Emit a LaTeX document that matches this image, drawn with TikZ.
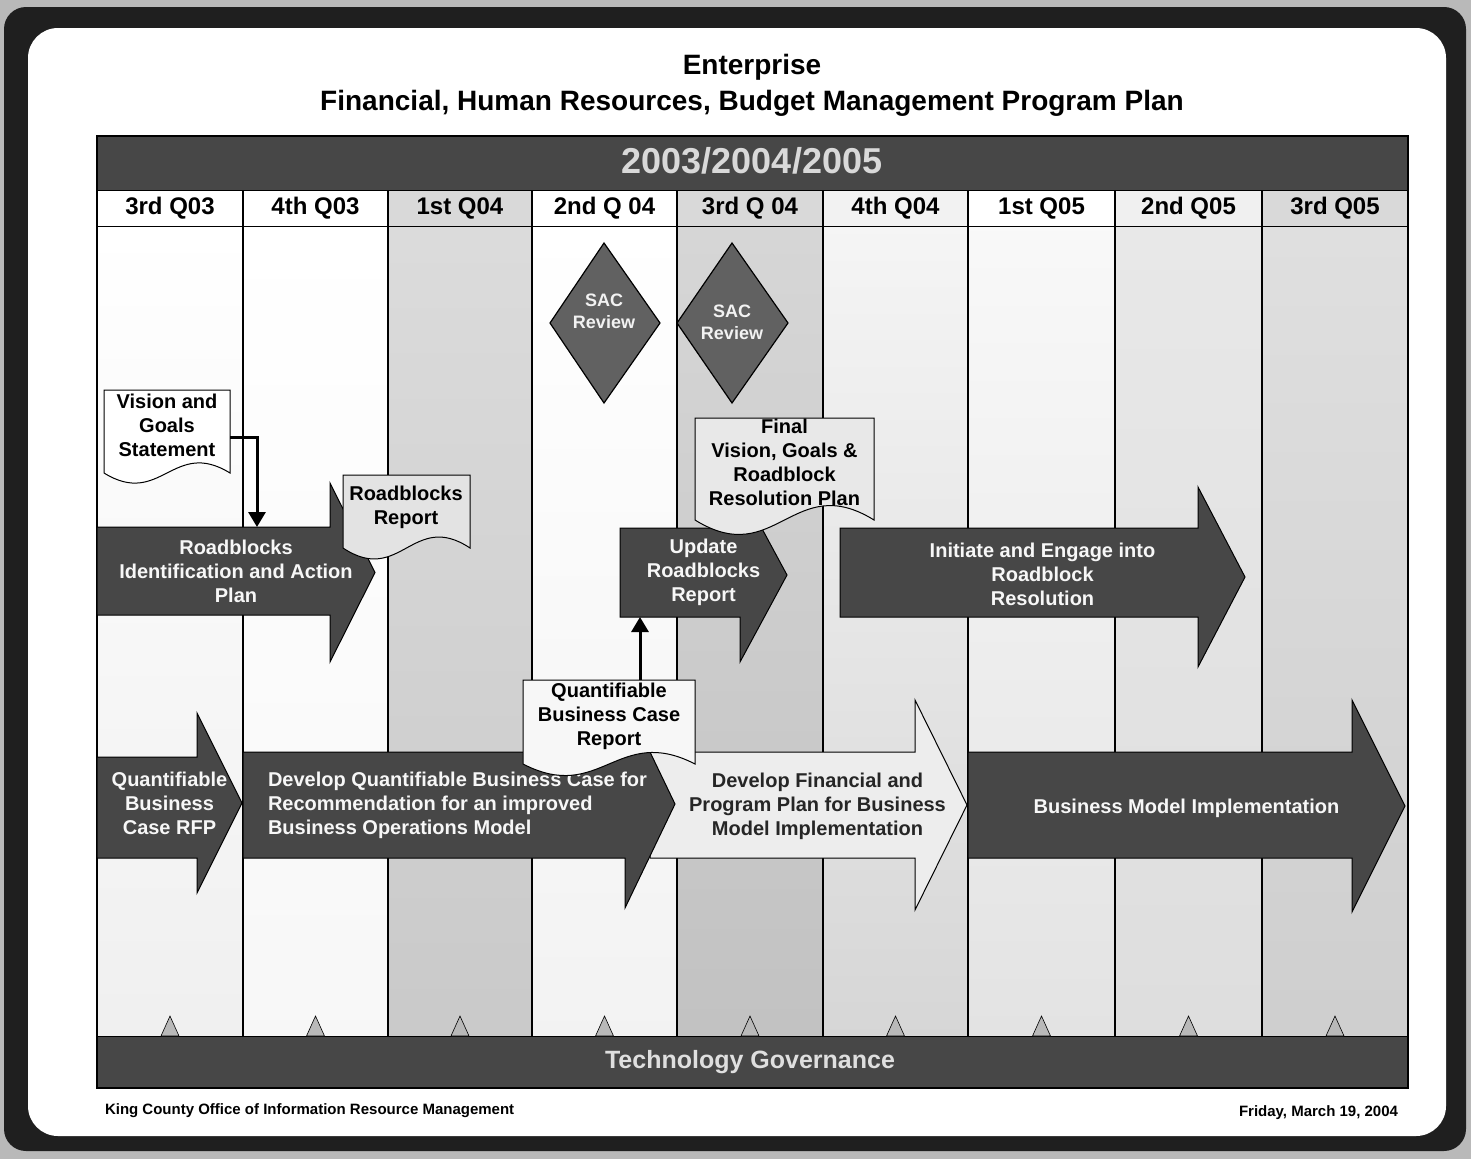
\documentclass[tikz,border=0pt]{standalone}
\usepackage{fontspec}
\setmainfont{Liberation Sans}
\usetikzlibrary{arrows.meta}

% block arrow: style, x-left, x-head, body top, body bottom, head top, head bottom, x-tip
\newcommand{\blockarrow}[8]{%
  \draw[#1] (#2,#4) -- (#3,#4) -- (#3,#6) -- (#8,{(#6+#7)/2}) -- (#3,#7) -- (#3,#5) -- (#2,#5) -- cycle;}
% document shape with wavy bottom: style, x-left, x-right, top, bottom edge, wave depth
\newcommand{\docshape}[6]{%
  \draw[#1] (#2,#4) -- (#3,#4) -- (#3,#5)
    .. controls ({#3-0.45*(#3-#2)},{#5-#6}) and ({#2+0.45*(#3-#2)},{#5+#6}) .. (#2,#5) -- cycle;}

\begin{document}
\begin{tikzpicture}[x=1pt,y=-1pt,
  every node/.style={inner sep=0pt, outer sep=0pt},
  darkarrow/.style={fill=black!72, draw=black, line width=1pt},
  lightarrow/.style={fill=gray!14, draw=black, line width=1pt},
  arrowtext/.style={text=gray!6, font=\bfseries\fontsize{20}{24}\selectfont, align=center},
  doc/.style={draw=black, line width=1pt},
  doctext/.style={font=\bfseries\fontsize{20}{24}\selectfont, align=center, text=black},
  review/.style={fill=black!62, draw=black, line width=1.2pt},
  reviewtext/.style={font=\bfseries\fontsize{18}{22}\selectfont, align=center, text=gray!10},
  conn/.style={line width=3pt, -{Triangle[length=15pt,width=17pt]}},
  quarter/.style={font=\bfseries\fontsize{24}{28}\selectfont},
  band/.style={fill=black!72, draw=black, line width=1pt},
  marker/.style={fill=gray!55, draw=black, line width=0.6pt},
  footer/.style={font=\bfseries\fontsize{15}{18}\selectfont},
]
\useasboundingbox (0,0) rectangle (1471,1159);

% frame
\fill[gray!55] (0,0) rectangle (1471,1159);
\fill[black!88, rounded corners=22pt] (4,7) rectangle (1466,1151);
\fill[white, rounded corners=30pt] (28,28) rectangle (1446,1136);

% title
\node[font=\bfseries\fontsize{28}{32}\selectfont] (title1) at (752,67) {Enterprise};
\node[font=\bfseries\fontsize{28}{32}\selectfont] (title2) at (752,103)
  {Financial, Human Resources, Budget Management Program Plan};

% column backgrounds
\shade[top color=white, bottom color=gray!12] (97,226) rectangle (243,1036);
\shade[top color=white, bottom color=gray!6] (243,226) rectangle (388,1036);
\shade[top color=gray!28, middle color=gray!52, bottom color=gray!42] (388,226) rectangle (532,1036);
\shade[top color=white, bottom color=gray!10] (532,226) rectangle (677,1036);
\shade[top color=gray!32, middle color=gray!56, bottom color=gray!48] (677,226) rectangle (823,1036);
\shade[top color=gray!8, middle color=gray!35, bottom color=gray!32] (823,226) rectangle (968,1036);
\shade[top color=gray!5, middle color=gray!32, bottom color=gray!22] (968,226) rectangle (1115,1036);
\shade[top color=gray!18, bottom color=gray!26] (1115,226) rectangle (1262,1036);
\shade[top color=gray!25, middle color=gray!44, bottom color=gray!38] (1262,226) rectangle (1408,1036);

% quarter row cells
\fill[white] (97,190) rectangle (1408,226);
\fill[gray!30] (388,190) rectangle (532,226);
\fill[gray!30] (677,190) rectangle (823,226);
\fill[gray!10] (823,190) rectangle (968,226);
\fill[gray!12] (1115,190) rectangle (1262,226);
\fill[gray!30] (1262,190) rectangle (1408,226);

% grid lines
\foreach \cx in {243,388,532,677,823,968,1115,1262}
  \draw[line width=1.2pt] (\cx,190) -- (\cx,1036);
\draw[line width=1pt] (97,226) -- (1408,226);

% year band
\draw[band] (97,136) rectangle (1408,190);
\node[font=\bfseries\fontsize{36}{40}\selectfont, text=gray!30] (years) at (752,161) {2003/2004/2005};

% quarter labels
\node[quarter] (q1) at (170,208) {3rd Q03};
\node[quarter] (q2) at (315.5,208) {4th Q03};
\node[quarter] (q3) at (460,208) {1st Q04};
\node[quarter] (q4) at (604.5,208) {2nd Q 04};
\node[quarter] (q5) at (750,208) {3rd Q 04};
\node[quarter] (q6) at (895.5,208) {4th Q04};
\node[quarter] (q7) at (1041.5,208) {1st Q05};
\node[quarter] (q8) at (1188.5,208) {2nd Q05};
\node[quarter] (q9) at (1335,208) {3rd Q05};

% governance band and quarter markers
\draw[band] (97,1036) rectangle (1408,1088);
\node[font=\bfseries\fontsize{25}{30}\selectfont, text=gray!25] (gov) at (750,1062) {Technology Governance};
\foreach \mx in {170,315.5,460,604.5,750,895.5,1041.5,1188.5,1335}
  \draw[marker] (\mx-9,1036) -- (\mx,1016) -- (\mx+9,1036) -- cycle;

% table border
\draw[line width=1.2pt] (97,136) rectangle (1408,1088);

% roadblocks identification
\blockarrow{darkarrow}{97}{330}{527}{615}{483}{662}{375}
\node[arrowtext, minimum width=278pt, minimum height=88pt] (ria) at (236,571)
  {Roadblocks\\Identification and Action\\Plan};
\docshape{doc, fill=gray!22}{343}{470}{475}{548}{38}
\node[doctext, minimum width=127pt] (rrep) at (406,507) {Roadblocks\\Report};
\docshape{doc, fill=white}{104}{230}{390}{473}{35}
\node[doctext, minimum width=126pt] (vision) at (167,425) {Vision and\\Goals\\Statement};
\draw[conn] ([yshift=-12pt]vision.east) -| ([xshift=21pt]ria.north);

% SAC reviews
\draw[review] (604,243) -- (660,323) -- (604,403) -- (550,323) -- cycle;
\node[reviewtext] (sac1) at (604,311) {SAC\\Review};
\draw[review] (732,243) -- (788,323) -- (732,403) -- (677,323) -- cycle;
\node[reviewtext] (sac2) at (732,322) {SAC\\Review};

% roadblock follow-up
\blockarrow{darkarrow}{620}{740}{528}{617}{488}{662}{787}
\node[arrowtext, minimum width=167pt, minimum height=89pt] (upd) at (703.5,572.5)
  {Update\\Roadblocks\\Report};
\blockarrow{darkarrow}{840}{1198}{528}{617}{487}{667}{1245}
\node[arrowtext] (init) at (1042.5,574)
  {Initiate and Engage into\\Roadblock\\Resolution};
\docshape{doc, fill=gray!18}{695}{874}{418}{520}{50}
\node[doctext] (final) at (784.5,462.5)
  {Final\\Vision, Goals \&\\Roadblock\\Resolution Plan};

% business case and implementation
\blockarrow{lightarrow}{650}{915}{752}{858}{700}{910}{967}
\node[font=\bfseries\fontsize{20}{24}\selectfont, align=center, text=black!85] (plan) at (817.5,806)
  {Develop Financial and\\Program Plan for Business\\Model Implementation};
\blockarrow{darkarrow}{243}{625}{752}{858}{700}{908}{675}
\node[arrowtext, align=left, anchor=west] (dev) at (268,805)
  {Develop Quantifiable Business Case for\\Recommendation for an improved\\Business Operations Model};
\blockarrow{darkarrow}{97}{197}{757}{858}{713}{893}{242}
\node[arrowtext] (rfp) at (169.5,803) {Quantifiable\\Business\\Case RFP};
\blockarrow{darkarrow}{968}{1352}{752}{858}{700}{912}{1405}
\node[arrowtext] (impl) at (1186.5,808) {Business Model Implementation};
\docshape{doc, fill=gray!6}{523}{695}{680}{764}{40}
\node[doctext, minimum width=172pt, minimum height=72pt] (qbcr) at (609,716)
  {Quantifiable\\Business Case\\Report};
\draw[conn] ([xshift=31pt]qbcr.north) -- ([xshift=31pt]qbcr.north |- upd.south);

% footer
\node[footer, anchor=west] (org) at (105,1111) {King County Office of Information Resource Management};
\node[footer, anchor=east] (date) at (1398,1113) {Friday, March 19, 2004};
\end{tikzpicture}
\end{document}
